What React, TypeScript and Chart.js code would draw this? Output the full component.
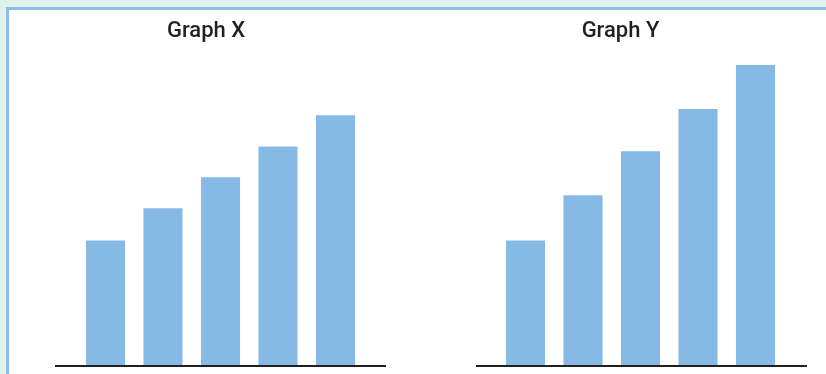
import React, { useEffect, useRef } from "react";
import { Chart, registerables } from "chart.js";

Chart.register(...registerables);

const categories = ["1", "2", "3", "4", "5"];
const graphXValues = [4, 5.03, 6.02, 7, 8];
const graphYValues = [4, 5.45, 6.85, 8.2, 9.6];
const titles = ["Graph X", "Graph Y"];
const yMax = 10.4;

const BAR = "#86b9e4";
const INK = "#231f20";

const decorPlugin = {
  id: "decor",
  afterDraw(chart: any, _args: any, opts: any) {
    const { ctx, chartArea, width } = chart;
    ctx.save();
    // title
    ctx.fillStyle = INK;
    ctx.font = "500 22px Roboto, 'Liberation Sans', sans-serif";
    ctx.textAlign = "center";
    ctx.textBaseline = "alphabetic";
    ctx.fillText(opts.title, width / 2, 37);
    // baseline axis line
    ctx.fillStyle = INK;
    ctx.fillRect(
      chartArea.left - opts.extL,
      chartArea.bottom - 1,
      chartArea.right - chartArea.left + opts.extL + opts.extR,
      2
    );
    ctx.restore();
  },
};

function BarPanel(props: {
  values: number[];
  title: string;
  left: number;
  width: number;
  padL: number;
  padR: number;
  extL: number;
  extR: number;
}) {
  const ref = useRef<HTMLCanvasElement | null>(null);
  useEffect(() => {
    if (!ref.current) return;
    const chart = new Chart(ref.current, {
      type: "bar",
      data: {
        labels: categories,
        datasets: [
          {
            data: props.values,
            backgroundColor: BAR,
            borderWidth: 0,
            barPercentage: 0.68,
            categoryPercentage: 1,
          },
        ],
      },
      options: {
        animation: false,
        responsive: false,
        maintainAspectRatio: false,
        devicePixelRatio: 1,
        layout: {
          padding: { left: props.padL, right: props.padR, top: 40, bottom: 8 },
        },
        plugins: {
          legend: { display: false },
          title: { display: false },
          tooltip: { enabled: false },
          decor: { title: props.title, extL: props.extL, extR: props.extR },
        } as any,
        scales: {
          x: { display: false },
          y: { display: false, min: 0, max: yMax },
        },
      },
      plugins: [decorPlugin],
    });
    return () => chart.destroy();
  }, []);
  return (
    <canvas
      ref={ref}
      width={props.width}
      height={374}
      style={{
        position: "absolute",
        left: props.left,
        top: 0,
        width: props.width,
        height: 374,
      }}
    />
  );
}

export default function App() {
  return (
    <div
      style={{
        position: "fixed",
        left: 0,
        top: 0,
        width: 826,
        height: 374,
        background: "#e1f1eb",
        overflow: "hidden",
      }}
    >
      <div
        style={{
          position: "absolute",
          left: 6,
          top: 7,
          right: 0,
          bottom: 0,
          background: "#ffffff",
          borderLeft: "3px solid #8bbfe5",
          borderTop: "3px solid #8bbfe5",
        }}
      />
      <BarPanel
        values={graphXValues}
        title={titles[0]}
        left={0}
        width={412}
        padL={76.75}
        padR={47.75}
        extL={21.75}
        extR={21.75}
      />
      <BarPanel
        values={graphYValues}
        title={titles[1]}
        left={415}
        width={411}
        padL={81.75}
        padR={41.75}
        extL={20.75}
        extR={22.75}
      />
    </div>
  );
}
